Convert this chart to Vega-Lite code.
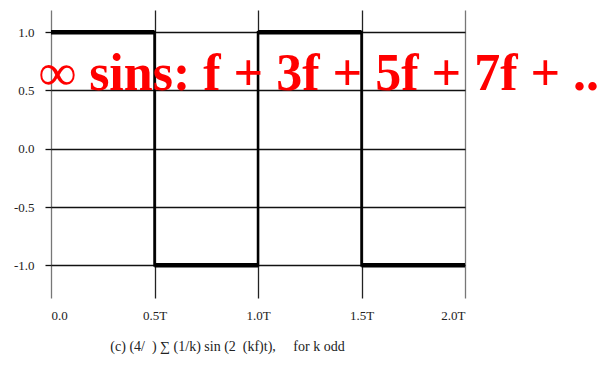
{
  "$schema": "https://vega.github.io/schema/vega-lite/v6.json",
  "width": 414,
  "height": 288,
  "autosize": {"type": "none"},
  "padding": {"left": 51, "top": 10, "right": 140, "bottom": 70},
  "background": "white",
  "config": {
    "view": {"stroke": null},
    "font": "Liberation Serif"
  },
  "datasets": {
    "wave": [
      {"t0": 0.0, "t1": 0.5, "v0": 1, "v1": 1},
      {"t0": 0.5, "t1": 0.5, "v0": 1, "v1": -1},
      {"t0": 0.5, "t1": 1.0, "v0": -1, "v1": -1},
      {"t0": 1.0, "t1": 1.0, "v0": -1, "v1": 1},
      {"t0": 1.0, "t1": 1.5, "v0": 1, "v1": 1},
      {"t0": 1.5, "t1": 1.5, "v0": 1, "v1": -1},
      {"t0": 1.5, "t1": 2.0, "v0": -1, "v1": -1}
    ],
    "headline": [
      {"t": 1.295, "v": 0.5, "label": "∞ sins: f + 3f + 5f + 7f + .."}
    ]
  },
  "encoding": {
    "x": {
      "field": "t0",
      "type": "quantitative",
      "scale": {"domain": [0, 2], "nice": false, "zero": false},
      "axis": {
        "values": [0, 0.5, 1, 1.5, 2],
        "labelExpr": "datum.value == 0 ? '0.0' : format(datum.value, '.1f') + 'T'",
        "domain": false,
        "ticks": false,
        "labelPadding": 11,
        "labelFont": "Liberation Serif",
        "labelFontSize": 13,
        "labelColor": "#222",
        "grid": true,
        "gridColor": {"condition": {"test": "datum.value == 0 || datum.value == 2", "value": "#777"}, "value": "#222"},
        "gridWidth": 1.3,
        "title": "(c) (4/\u00a0\u00a0) ∑ (1/k) sin (2\u00a0\u00a0(kf)t),\u00a0\u00a0\u00a0\u00a0\u00a0for k odd",
        "titleFont": "Liberation Serif",
        "titleFontSize": 14,
        "titleFontWeight": "normal",
        "titleColor": "#222",
        "titleX": 176,
        "titlePadding": 17
      }
    },
    "y": {
      "field": "v0",
      "type": "quantitative",
      "scale": {"domain": [-1.28, 1.19], "nice": false, "zero": false},
      "axis": {
        "values": [-1, -0.5, 0, 0.5, 1],
        "labelExpr": "replace(format(datum.value, '.1f'), '\u2212', '-')",
        "domain": false,
        "ticks": true,
        "tickSize": 6,
        "tickColor": "#111",
        "tickWidth": 1.3,
        "labelPadding": 11,
        "labelFont": "Liberation Serif",
        "labelFontSize": 13,
        "labelColor": "#222",
        "grid": true,
        "gridColor": "#111",
        "gridWidth": 1.3,
        "title": null
      }
    }
  },
  "layer": [
    {
      "data": {"name": "wave"},
      "transform": [{"filter": "datum.t0 != datum.t1"}],
      "mark": {"type": "rule", "color": "black", "strokeWidth": 4.5, "strokeCap": "butt"},
      "encoding": {
        "x2": {"field": "t1"},
        "y2": {"field": "v1"}
      }
    },
    {
      "data": {"name": "wave"},
      "transform": [{"filter": "datum.t0 == datum.t1"}],
      "mark": {"type": "rule", "color": "black", "strokeWidth": 2.5, "strokeCap": "square"},
      "encoding": {
        "x2": {"field": "t1"},
        "y2": {"field": "v1"}
      }
    },
    {
      "data": {"name": "headline"},
      "mark": {
        "type": "text",
        "font": "Liberation Serif",
        "fontWeight": "bold",
        "fontSize": 52,
        "color": "#ff0000",
        "align": "center",
        "baseline": "alphabetic",
        "clip": false
      },
      "encoding": {
        "x": {"field": "t", "type": "quantitative"},
        "y": {"field": "v", "type": "quantitative"},
        "text": {"field": "label"}
      }
    }
  ]
}
